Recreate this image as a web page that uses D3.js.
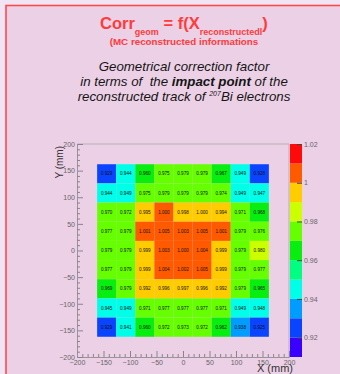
<!DOCTYPE html>
<html><head><meta charset="utf-8">
<script src="https://cdn.jsdelivr.net/npm/d3@7"></script>
<style>
html,body{margin:0;padding:0;background:#f1e4f5;}
svg{display:block;font-family:"Liberation Sans",Arial,sans-serif;}
</style></head><body>
<svg id="c" width="340" height="374"></svg>
<script>
// bin edges (mm)
const xEdges = [-162, -126, -90, -54, -18, 18, 54, 90, 126, 162];
const yEdges = [162, 126, 90, 54, 18, -18, -54, -90, -126, -162]; // top to bottom
// correction factor per cell, rows top -> bottom, columns left -> right
const row1 = [0.929, 0.944, 0.960, 0.975, 0.979, 0.979, 0.967, 0.949, 0.928];
const row2 = [0.944, 0.949, 0.975, 0.979, 0.979, 0.979, 0.974, 0.949, 0.947];
const row3 = [0.970, 0.972, 0.995, 1.000, 0.998, 0.9996, 0.994, 0.971, 0.968];
const row4 = [0.977, 0.979, 1.001, 1.005, 1.003, 1.005, 1.001, 0.979, 0.976];
const row5 = [0.979, 0.979, 0.999, 1.003, 1.000, 1.004, 0.999, 0.979, 0.980];
const row6 = [0.977, 0.979, 0.999, 1.004, 1.002, 1.005, 0.999, 0.979, 0.977];
const row7 = [0.969, 0.979, 0.992, 0.996, 0.997, 0.996, 0.992, 0.979, 0.965];
const row8 = [0.945, 0.949, 0.971, 0.977, 0.977, 0.977, 0.971, 0.949, 0.948];
const row9 = [0.929, 0.941, 0.960, 0.972, 0.973, 0.972, 0.962, 0.938, 0.925];
const rows = [row1, row2, row3, row4, row5, row6, row7, row8, row9];
// axes
const axisTicks = [-200, -150, -100, -50, 0, 50, 100, 150, 200];
const minorTicks = [-190,-180,-170,-160,-140,-130,-120,-110,-90,-80,-70,-60,-40,-30,-20,-10,10,20,30,40,60,70,80,90,110,120,130,140,160,170,180,190];
// colour levels
const levels = [0.91, 0.92, 0.93, 0.94, 0.95, 0.96, 0.97, 0.98, 0.99, 1.00, 1.01, 1.02];
const levelColors = ["#3a00ff", "#0a44ff", "#009cff", "#00ffe8", "#00ff80", "#08ee10", "#66ff00", "#ccff00", "#ffcc00", "#ff5a00", "#ff0a0a"];
const colorTicks = [0.92, 0.94, 0.96, 0.98, 1.00, 1.02];
const colorTickLabels = ["0.92", "0.94", "0.96", "0.98", "1", "1.02"];

const svg = d3.select("#c");
// page background + red frame
svg.append("rect").attr("x", 6).attr("y", 5.5).attr("width", 400).attr("height", 400)
  .attr("fill", "#ecd0e6").attr("stroke", "#ff4a4a").attr("stroke-width", 1.6);

// Title
const red = "#ff3b3b";
const t = svg.append("text").attr("x", 100).attr("y", 29).attr("fill", red)
  .attr("font-weight", "bold").attr("font-size", 16.5);
t.append("tspan").text("Corr");
t.append("tspan").attr("font-size", 9).attr("dy", 6).text("geom");
t.append("tspan").attr("dy", -6).text(" = f(X");
t.append("tspan").attr("font-size", 9).attr("dy", 6).text("reconstructedl");
t.append("tspan").attr("dy", -6).text(")");
svg.append("text").attr("x", 184).attr("y", 45).attr("text-anchor", "middle")
  .attr("fill", red).attr("font-weight", "bold").attr("font-size", 9.8)
  .text("(MC reconstructed informations");

const body = [
  [{t: "Geometrical correction factor"}],
  [{t: "in terms of  the "}, {t: "impact point", b: true}, {t: " of the"}],
  [{t: "reconstructed track of "}, {t: "207", sup: true}, {t: "Bi electrons"}]
];
body.forEach((line, i) => {
  const tx = svg.append("text").attr("x", 184).attr("y", 70.5 + i * 15)
    .attr("text-anchor", "middle").attr("font-style", "italic")
    .attr("font-size", 13.3).attr("fill", "#151515").style("white-space", "pre");
  line.forEach(p => {
    const s = tx.append("tspan").text(p.t);
    if (p.b) s.attr("font-weight", "bold");
    if (p.sup) { s.attr("font-size", 7).attr("dy", -5); }
    else if (line.some(q => q.sup) && p.t === "Bi electrons") s.attr("dy", 5);
  });
});

// scales
const x = d3.scaleLinear().domain([-200, 200]).range([77, 289]);
const y = d3.scaleLinear().domain([-200, 200]).range([357, 144]);
const color = d3.scaleThreshold().domain(levels.slice(1, -1)).range(levelColors);
const fmt = d3.format(".3f");

// cells
const cells = [];
rows.forEach((r, i) => r.forEach((v, j) => cells.push({i, j, v})));
const g = svg.append("g");
g.selectAll("rect").data(cells).join("rect")
  .attr("x", d => x(xEdges[d.j]))
  .attr("y", d => y(yEdges[d.i]))
  .attr("width", d => x(xEdges[d.j + 1]) - x(xEdges[d.j]))
  .attr("height", d => y(yEdges[d.i + 1]) - y(yEdges[d.i]))
  .attr("fill", d => color(d.v));
g.selectAll("text").data(cells).join("text")
  .attr("x", d => (x(xEdges[d.j]) + x(xEdges[d.j + 1])) / 2)
  .attr("y", d => (y(yEdges[d.i]) + y(yEdges[d.i + 1])) / 2 + 1.6)
  .attr("text-anchor", "middle").attr("font-size", 4.6).attr("fill", "#111")
  .text(d => fmt(d.v));

// frame
svg.append("path").attr("d", `M${x(-200)},${y(200)}H${x(200)}V${y(-200)}`)
  .attr("fill", "none").attr("stroke", "#b8b0b8").attr("stroke-width", 1);

function styleAxis(sel) {
  sel.select(".domain").attr("stroke", "#9a949a");
  sel.selectAll(".tick line").attr("stroke", "#8a848a");
  sel.selectAll("text").attr("fill", "#666").attr("font-size", 7)
    .attr("font-family", "Liberation Sans, Arial, sans-serif");
}
const xa = svg.append("g").attr("transform", `translate(0,${y(-200)})`)
  .call(d3.axisBottom(x).tickValues(axisTicks).tickSizeInner(-6).tickSizeOuter(0).tickPadding(3));
styleAxis(xa);
const xm = svg.append("g").attr("transform", `translate(0,${y(-200)})`)
  .call(d3.axisBottom(x).tickValues(minorTicks).tickSizeInner(-3).tickSizeOuter(0).tickFormat(""));
styleAxis(xm);
const ya = svg.append("g").attr("transform", `translate(${x(-200)},0)`)
  .call(d3.axisLeft(y).tickValues(axisTicks).tickSizeInner(-6).tickSizeOuter(0).tickPadding(2));
styleAxis(ya);
const ym = svg.append("g").attr("transform", `translate(${x(-200)},0)`)
  .call(d3.axisLeft(y).tickValues(minorTicks).tickSizeInner(-3).tickSizeOuter(0).tickFormat(""));
styleAxis(ym);

svg.append("text").attr("x", 293).attr("y", 372).attr("text-anchor", "end")
  .attr("font-size", 11).attr("fill", "#333").text("X (mm)");
svg.append("text").attr("transform", "translate(63,146) rotate(-90)").attr("text-anchor", "end")
  .attr("font-size", 10).attr("fill", "#333").text("Y (mm)");

// colour bar
const c = d3.scaleLinear().domain([0.91, 1.02]).range([357, 144]);
const bands = levelColors.map((col, k) => ({lo: levels[k], hi: levels[k + 1], col}));
svg.append("g").selectAll("rect").data(bands).join("rect")
  .attr("x", 290).attr("width", 12)
  .attr("y", d => c(d.hi)).attr("height", d => c(d.lo) - c(d.hi))
  .attr("fill", d => d.col);
const ca = svg.append("g").attr("transform", "translate(302,0)")
  .call(d3.axisRight(c).tickValues(colorTicks).tickFormat((d, i) => colorTickLabels[i])
    .tickSizeInner(-5).tickSizeOuter(0).tickPadding(2));
styleAxis(ca);
ca.select(".domain").attr("stroke", "none");
ca.selectAll(".tick line").attr("stroke", "#444");
</script>
</body></html>
